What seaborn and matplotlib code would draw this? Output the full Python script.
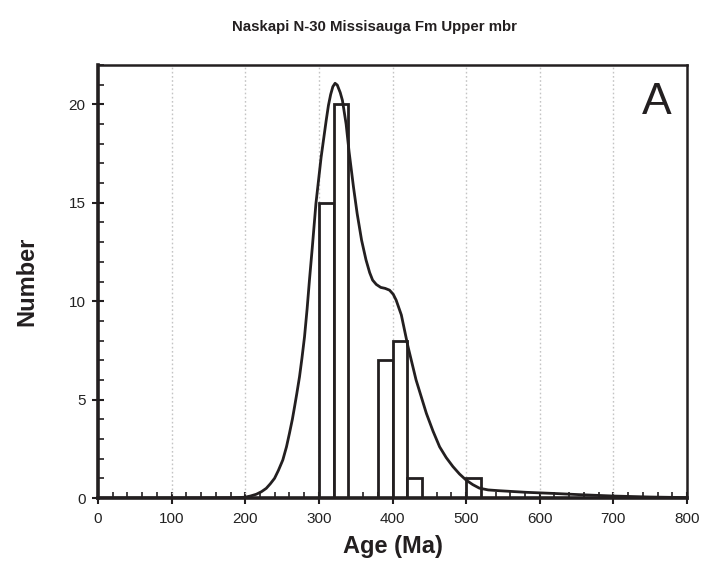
import numpy as np
import pandas as pd
import matplotlib
matplotlib.use("Agg")
import matplotlib.pyplot as plt
from matplotlib.ticker import MultipleLocator
import seaborn as sns

# ---- data ----
bin_left = [300, 320, 380, 400, 420, 500]
bin_count = [15, 20, 7, 8, 1, 1]
bin_width = 20

curve_age = [0, 100, 150, 180, 190, 199.5, 207, 215, 222, 228.5, 234, 239.8, 245, 251,
             256, 260, 264, 267, 270, 273.7, 277, 280.5, 284, 287.2, 291, 296, 303, 310,
             313, 316, 319, 322, 325, 329, 332, 337, 341, 347, 352, 358, 364, 369, 373, 378, 384,
             390, 396, 401, 405, 412, 421, 432, 446, 455, 464, 473, 482, 491, 500,
             509, 518, 530, 545, 581, 620, 654, 700, 750, 800]
curve_n = [0, 0, 0.003, 0.01, 0.02, 0.04, 0.1, 0.19, 0.32, 0.49, 0.72, 1.0, 1.4, 1.93,
           2.6, 3.28, 4.0, 4.64, 5.3, 6.16, 7.1, 8.19, 9.6, 11.07, 12.7, 14.96, 17.3, 19.2,
           19.95, 20.5, 20.9, 21.07, 20.98, 20.6, 20.2, 19.0, 17.6, 15.8, 14.45, 13.1, 12.1, 11.45, 11.07, 10.85, 10.7,
           10.65, 10.56, 10.35, 10.05, 9.3, 7.7, 6.0, 4.3, 3.4, 2.6, 2.05, 1.6, 1.22, 0.91,
           0.68, 0.5, 0.41, 0.37, 0.29, 0.23, 0.17, 0.1, 0.05, 0.02]

title = "Naskapi N-30 Missisauga Fm Upper mbr"
x_label = "Age (Ma)"
y_label = "Number"
panel_letter = "A"
x_ticks = [0, 100, 200, 300, 400, 500, 600, 700, 800]
y_ticks = [0, 5, 10, 15, 20]

# ---- styling ----
sns.set_style("white")
plt.rcParams["font.family"] = ["Liberation Sans", "DejaVu Sans"]
dark = "#231f20"

fig = plt.figure(figsize=(7.04, 5.71), dpi=100)
ax = fig.add_axes([98 / 704, 1 - 498 / 571, (687 - 98) / 704, (498 - 65) / 571])

hist_df = pd.DataFrame({"age": [b + bin_width / 2 for b in bin_left],
                        "count": [float(c) for c in bin_count]})
sns.histplot(data=hist_df, x="age", weights="count",
             binwidth=bin_width, binrange=(min(bin_left), max(bin_left) + bin_width),
             stat="count", color="white", edgecolor=dark, linewidth=2.0, alpha=1.0,
             ax=ax, zorder=3)

sns.lineplot(x=curve_age, y=curve_n, color=dark, linewidth=2.0, ax=ax, zorder=4)

ax.set_xlim(0, 800)
ax.set_ylim(0, 22)
ax.set_xticks(x_ticks)
ax.set_yticks(y_ticks)
ax.xaxis.set_minor_locator(MultipleLocator(20))
ax.yaxis.set_minor_locator(MultipleLocator(1))

ax.grid(False)
for xv in x_ticks[1:-1]:
    ax.axvline(xv, color="#c4c4c4", linestyle=(0, (1.2, 1.8)), linewidth=1.0, zorder=1)

for side, lw in [("left", 2.6), ("bottom", 2.6), ("top", 1.8), ("right", 1.8)]:
    ax.spines[side].set_visible(True)
    ax.spines[side].set_color(dark)
    ax.spines[side].set_linewidth(lw)
    ax.spines[side].set_zorder(6)

ax.tick_params(which="both", bottom=True, left=True, top=False, right=False)
ax.tick_params(which="major", direction="inout", length=8, width=1.5, color=dark,
               labelsize=11, labelcolor="#222222")
ax.tick_params(axis="x", which="major", pad=6)
ax.tick_params(axis="y", which="major", pad=5)
ax.tick_params(which="minor", direction="in", length=4, width=1.2, color=dark)

ax.set_xlabel(x_label, fontsize=17, fontweight="bold", color=dark)
ax.set_ylabel(y_label, fontsize=17, fontweight="bold", color=dark)
ax.xaxis.label.set_va("center")
ax.yaxis.label.set_va("center")
ax.xaxis.set_label_coords(0.5, (498 - 547) / 433)
ax.yaxis.set_label_coords((27 - 98) / 589, 0.5)

ax.text((657 - 98) / 589, (498 - 102) / 433, panel_letter, transform=ax.transAxes,
        ha="center", va="center", fontsize=32, color=dark)

fig.text(375 / 704, 1 - 27 / 571, title, ha="center", va="center",
         fontsize=10.8, fontweight="bold", color=dark)

fig.savefig("out.png", dpi=100)
